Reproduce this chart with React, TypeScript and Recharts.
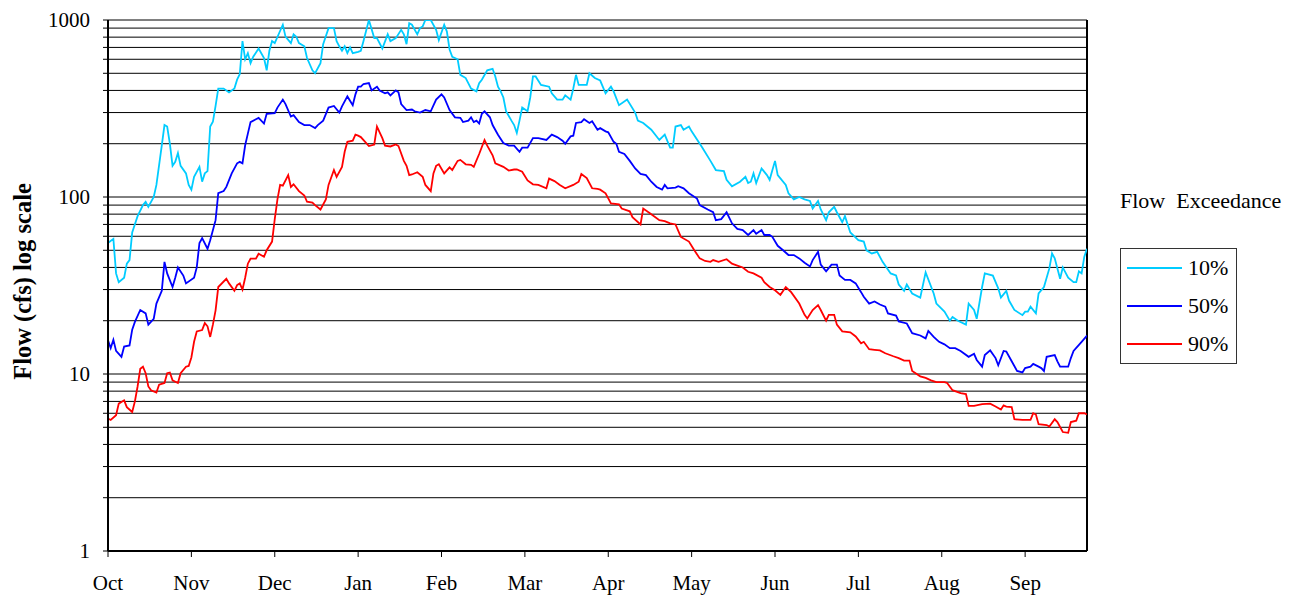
import React from 'react';
import {
  LineChart,
  Line,
  XAxis,
  YAxis,
  CartesianGrid,
  Legend,
  ReferenceLine,
} from 'recharts';

// water year runs Oct -> Sep, x is day index from Oct 1
const monthLabels = ['Oct', 'Nov', 'Dec', 'Jan', 'Feb', 'Mar', 'Apr', 'May', 'Jun', 'Jul', 'Aug', 'Sep'];
const monthTicks = [0, 31, 62, 93, 124, 155, 186, 217, 248, 279, 310, 341];
const flowTicks = [
  1, 2, 3, 4, 5, 6, 7, 8, 9,
  10, 20, 30, 40, 50, 60, 70, 80, 90,
  100, 200, 300, 400, 500, 600, 700, 800, 900, 1000,
];
const flowLabels = [1, 10, 100, 1000];

// [day, flow cfs]
const exceed10: [number, number][] = [
  [0, 55], [2, 58], [3, 37], [4, 33], [6, 35], [7, 42], [8, 44], [9, 63], [11, 78], [13, 90], [14, 94], [15, 88],
  [17, 100], [18, 117], [20, 196], [21, 255], [22, 250], [23, 200], [24, 150], [25, 158], [26, 177], [27, 150],
  [29, 136], [30, 117], [31, 110], [32, 130], [34, 148], [35, 122], [36, 136], [37, 140], [38, 250], [39, 266],
  [40, 327], [41, 410], [43, 410], [45, 390], [47, 410], [48, 460], [49, 495], [50, 760], [51, 600], [52, 650],
  [53, 570], [54, 620], [56, 690], [58, 610], [59, 520], [60, 670], [61, 760], [62, 740], [65, 940], [66, 805],
  [68, 740], [69, 830], [70, 805], [71, 740], [73, 710], [74, 610], [76, 520], [77, 500], [79, 570], [80, 730],
  [82, 900], [84, 900], [85, 760], [86, 710], [87, 670], [88, 710], [89, 650], [90, 700], [91, 650], [93, 660],
  [94, 670], [95, 760], [97, 1000], [99, 790], [100, 790], [102, 690], [104, 830], [105, 760], [107, 790],
  [109, 880], [110, 830], [111, 730], [112, 960], [113, 940], [115, 830], [116, 900], [117, 920], [118, 1000],
  [120, 1000], [122, 880], [123, 770], [125, 940], [126, 860], [127, 680], [128, 620], [130, 600], [131, 490],
  [133, 470], [135, 410], [137, 395], [138, 440], [139, 460], [141, 520], [143, 530], [144, 480], [145, 420],
  [146, 395], [147, 365], [148, 305], [150, 270], [151, 255], [152, 230], [153, 270], [154, 320], [156, 305],
  [157, 365], [158, 480], [159, 480], [161, 430], [164, 420], [165, 385], [167, 355], [169, 355], [170, 375],
  [172, 355], [173, 410], [174, 490], [175, 430], [178, 430], [179, 500], [181, 470], [183, 455], [185, 385],
  [187, 420], [188, 395], [190, 330], [193, 355], [196, 300], [197, 270], [199, 262], [202, 240], [205, 210],
  [207, 225], [209, 190], [210, 190], [211, 250], [213, 255], [214, 240], [216, 250], [217, 235], [221, 190],
  [224, 160], [226, 142], [229, 140], [230, 125], [232, 115], [235, 122], [237, 130], [238, 120], [239, 122],
  [240, 136], [241, 120], [243, 145], [245, 133], [246, 125], [248, 160], [249, 133], [252, 117], [253, 105],
  [255, 97], [257, 100], [259, 97], [261, 95], [262, 86], [264, 95], [265, 85], [267, 74], [268, 82], [270, 88],
  [271, 82], [273, 72], [274, 78], [276, 63], [278, 59], [279, 57], [281, 56], [282, 50], [284, 48], [286, 49],
  [288, 43], [291, 37], [293, 36], [294, 32], [296, 29.5], [297, 32], [299, 28.5], [302, 27], [304, 37.5],
  [307, 28.5], [308, 25], [311, 22.5], [313, 20], [314, 21], [316, 20], [319, 19], [320, 25], [322, 23],
  [323, 20.5], [325, 31], [326, 37], [329, 36], [331, 30.5], [332, 27], [334, 29.5], [335, 26], [337, 23],
  [340, 21.5], [341, 22.5], [342, 22.5], [343, 24], [345, 22], [346, 28.5], [348, 31], [350, 39.5], [351, 48],
  [352, 45], [354, 34.5], [355, 40], [357, 35], [359, 33], [360, 33], [361, 38], [362, 37], [363, 46], [364, 51],
];

const exceed50: [number, number][] = [
  [0, 15.5], [1, 14], [2, 15.6], [3, 13.5], [5, 12.5], [6, 14.3], [8, 14.5], [9, 17.8], [10, 19.7], [12, 23],
  [14, 22], [15, 19], [17, 20.5], [18, 25], [20, 29.5], [21, 43], [22, 37], [24, 31], [25, 35], [26, 40], [28, 36],
  [29, 32.5], [32, 35], [33, 40], [34, 55], [35, 58.5], [37, 51], [38, 57], [40, 74], [41, 105], [43, 108],
  [44, 114], [46, 136], [48, 155], [49, 158], [50, 155], [51, 196], [52, 228], [53, 265], [55, 275], [56, 280],
  [58, 260], [59, 295], [62, 298], [63, 320], [65, 355], [66, 335], [68, 285], [69, 290], [71, 265], [73, 255],
  [75, 255], [77, 245], [78, 255], [80, 270], [82, 320], [84, 327], [86, 300], [87, 325], [89, 370], [91, 330],
  [92, 380], [93, 420], [94, 420], [95, 435], [97, 440], [98, 400], [100, 420], [101, 400], [103, 385], [104, 390],
  [105, 375], [107, 400], [108, 390], [109, 335], [111, 310], [113, 312], [114, 305], [116, 300], [118, 310],
  [120, 305], [122, 355], [124, 380], [125, 365], [127, 310], [129, 282], [131, 280], [132, 265], [134, 270],
  [135, 282], [136, 265], [137, 270], [138, 260], [139, 295], [140, 305], [142, 282], [143, 255], [145, 225],
  [147, 202], [149, 195], [151, 195], [153, 180], [154, 190], [156, 190], [158, 215], [160, 215], [163, 210],
  [165, 225], [167, 218], [169, 208], [170, 200], [172, 220], [173, 222], [174, 262], [176, 265], [177, 275],
  [179, 262], [180, 268], [182, 240], [183, 245], [185, 235], [186, 232], [188, 205], [189, 200], [190, 180],
  [192, 175], [194, 160], [196, 145], [198, 135], [200, 133], [202, 122], [204, 114], [206, 110], [207, 117],
  [208, 112], [211, 113], [212, 115], [214, 112], [216, 105], [219, 98], [220, 90], [223, 85], [225, 82],
  [226, 74], [228, 75], [230, 82], [232, 71], [234, 66], [236, 65], [238, 61], [240, 65], [241, 62], [243, 65],
  [244, 61], [246, 61], [247, 59.6], [249, 53], [251, 50], [253, 47], [255, 47], [257, 45], [259, 42.5],
  [261, 40.5], [262, 44], [264, 49], [265, 41.5], [267, 38], [269, 41.5], [271, 41.5], [272, 36], [274, 34],
  [276, 34], [278, 32.5], [280, 29], [281, 27.3], [283, 25], [285, 25.7], [287, 24.7], [289, 24], [290, 22],
  [293, 21.4], [294, 19.8], [297, 19.3], [299, 17], [302, 16.5], [304, 15.9], [305, 17.5], [307, 16.2],
  [309, 15.2], [311, 14.7], [313, 14], [315, 14], [317, 13.5], [320, 12.5], [322, 13], [323, 12], [325, 11],
  [326, 12.8], [328, 13.6], [330, 12.3], [331, 11.2], [333, 13.5], [334, 13.4], [336, 11.8], [338, 10.4],
  [340, 10.2], [341, 10.8], [343, 11], [344, 11.4], [346, 11], [347, 10.8], [348, 10.4], [349, 12.5], [352, 12.8],
  [353, 11.8], [354, 11], [357, 11], [358, 12.3], [359, 13.5], [361, 14.6], [362, 15.2], [364, 16.5],
];

const exceed90: [number, number][] = [
  [0, 5.6], [1, 5.5], [3, 5.85], [4, 6.8], [6, 7.1], [7, 6.5], [9, 6.1], [10, 7], [11, 8.5], [12, 10.7], [13, 11],
  [14, 10.1], [15, 8.5], [16, 8.1], [18, 7.85], [19, 8.7], [21, 8.9], [22, 10.1], [23, 10.2], [24, 9.2], [26, 8.9],
  [27, 10.1], [29, 11], [30, 11.1], [31, 12.4], [32, 15.2], [33, 17.4], [35, 17.7], [36, 19.4], [37, 18.6],
  [38, 16.2], [39, 19], [40, 22.9], [41, 31], [44, 34.5], [45, 32.5], [47, 29.5], [48, 31.8], [49, 32.5], [50, 30],
  [51, 35], [52, 42], [53, 44.8], [55, 44.8], [56, 47.8], [58, 46], [59, 50], [61, 56], [62, 75], [63, 97],
  [64, 117], [65, 116], [67, 133], [68, 114], [69, 118], [71, 108], [73, 102], [74, 94], [76, 93], [77, 90],
  [79, 85], [81, 97], [82, 117], [84, 142], [85, 130], [87, 148], [88, 180], [89, 205], [91, 208], [92, 225],
  [93, 222], [94, 218], [97, 194], [99, 198], [100, 250], [101, 232], [102, 215], [103, 195], [105, 193],
  [107, 198], [108, 194], [110, 160], [111, 150], [112, 133], [113, 134], [115, 138], [117, 130], [118, 117],
  [120, 108], [121, 136], [122, 150], [123, 153], [125, 136], [127, 147], [128, 142], [130, 160], [131, 162],
  [133, 153], [135, 152], [136, 148], [138, 175], [140, 210], [141, 195], [143, 172], [144, 155], [147, 148],
  [149, 141], [151, 143], [152, 143], [154, 139], [156, 124], [158, 118], [160, 117], [163, 112], [164, 127],
  [166, 123], [168, 117], [170, 112], [173, 117], [175, 122], [176, 135], [178, 128], [180, 112], [182, 111],
  [183, 110], [185, 105], [187, 92], [190, 91], [191, 86], [194, 83], [195, 77], [198, 70], [199, 86], [202, 80],
  [205, 74], [207, 73], [209, 71], [211, 70], [213, 59.5], [216, 56], [218, 50], [220, 45], [222, 43.5],
  [224, 43], [225, 44], [227, 43], [230, 44.5], [232, 42], [234, 41], [236, 40], [238, 37.8], [240, 37],
  [243, 35], [244, 33], [246, 31], [248, 29.7], [250, 28], [252, 31], [254, 29], [257, 25], [259, 21.6],
  [260, 20.6], [262, 23], [264, 24.5], [265, 23], [267, 20], [268, 21.6], [270, 21.6], [271, 19], [273, 17.4],
  [276, 17.2], [278, 16.3], [280, 14.9], [281, 15.2], [283, 13.8], [285, 13.7], [287, 13.6], [289, 13.1],
  [292, 12.6], [294, 12.3], [296, 11.9], [298, 11.9], [299, 10.4], [302, 9.7], [304, 9.5], [306, 9.2], [308, 9],
  [311, 9], [312, 8.9], [314, 8.1], [317, 7.8], [319, 7.7], [320, 6.6], [322, 6.6], [325, 6.75], [328, 6.8],
  [330, 6.55], [332, 6.3], [333, 6.65], [334, 6.55], [336, 6.5], [337, 5.55], [340, 5.5], [343, 5.5], [344, 6],
  [345, 5.9], [346, 5.2], [349, 5.15], [350, 5.05], [352, 5.55], [353, 5.35], [355, 4.7], [357, 4.65],
  [358, 5.35], [360, 5.45], [361, 6], [363, 6], [364, 5.9],
];

const seriesNames = ['10%', '50%', '90%'];
const seriesColors = ['#00CCFF', '#0000FF', '#FF0000'];

const font = '"Liberation Serif", "Times New Roman", serif';

const toRows = (pts: [number, number][]) => pts.map(([day, flow]) => ({ day, flow }));
const seriesData = [toRows(exceed10), toRows(exceed50), toRows(exceed90)];

function LegendBox({ payload }: any) {
  return (
    <div style={{ fontFamily: font, fontSize: 22, color: '#000' }}>
      <div style={{ whiteSpace: 'pre', lineHeight: '24px' }}>Flow  Exceedance</div>
      <div style={{ marginTop: 35, border: '1px solid #333', width: 115 }}>
        {(payload || []).map((p: any) => (
          <div key={p.value} style={{ display: 'flex', alignItems: 'center', height: 38 }}>
            <span style={{ display: 'inline-block', width: 55, height: 2, background: p.color, marginLeft: 6, marginRight: 6 }} />
            <span>{p.value}</span>
          </div>
        ))}
      </div>
    </div>
  );
}

function AxisTitle({ viewBox }: any) {
  const cx = viewBox.x + 14;
  const cy = viewBox.y + viewBox.height / 2 - 4;
  return (
    <text
      x={cx}
      y={cy}
      transform={`rotate(-90 ${cx} ${cy})`}
      textAnchor="middle"
      dominantBaseline="central"
      fontFamily={font}
      fontWeight="bold"
      fontSize={24.5}
      fill="#000"
    >
      Flow (cfs) log scale
    </text>
  );
}

export default function App() {
  return (
    <div style={{ width: 1285, height: 590 }}>
      <LineChart width={1285} height={590} margin={{ top: 12, right: 206, bottom: 0, left: 0 }}>
        <CartesianGrid vertical={false} stroke="#000" strokeWidth={1} />
        <XAxis
          dataKey="day"
          type="number"
          domain={[0, 364]}
          ticks={monthTicks}
          interval={0}
          allowDataOverflow
          height={47}
          tickSize={6}
          tickMargin={18}
          tickFormatter={(d: number) => monthLabels[monthTicks.indexOf(d)]}
          tick={{ fill: '#000', fontSize: 21, fontFamily: font }}
          tickLine={{ stroke: '#000' }}
          axisLine={{ stroke: '#000', strokeWidth: 2 }}
        />
        <YAxis
          type="number"
          scale="log"
          domain={[1, 1000]}
          ticks={flowTicks}
          interval={0}
          allowDataOverflow
          width={100}
          tickSize={5}
          tickMargin={13}
          tickFormatter={(v: number) => (flowLabels.includes(v) ? String(v) : '')}
          tick={{ fill: '#000', fontSize: 21, fontFamily: font }}
          tickLine={{ stroke: '#000' }}
          axisLine={{ stroke: '#000', strokeWidth: 2 }}
          label={{ content: AxisTitle }}
        />
        <ReferenceLine x={364} stroke="#000" strokeWidth={2} />
        <Legend
          layout="vertical"
          align="center"
          verticalAlign="middle"
          content={LegendBox}
          wrapperStyle={{ left: 1112, top: 181, width: 180 }}
        />
        {seriesData.map((rows, i) => (
          <Line
            key={seriesNames[i]}
            data={rows}
            dataKey="flow"
            name={seriesNames[i]}
            type="linear"
            stroke={seriesColors[i]}
            strokeWidth={1.8}
            dot={false}
            isAnimationActive={false}
          />
        ))}
      </LineChart>
    </div>
  );
}
